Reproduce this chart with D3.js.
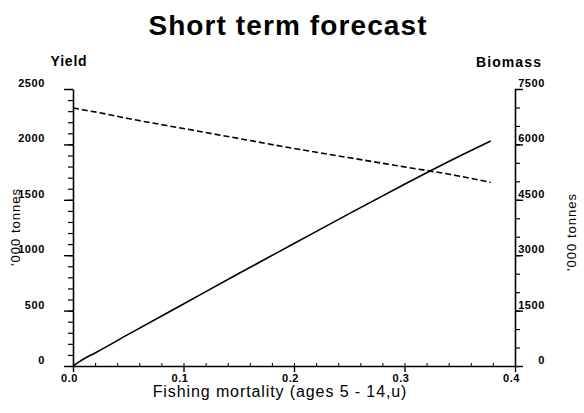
<!DOCTYPE html>
<html>
<head>
<meta charset="utf-8">
<script src="https://cdn.jsdelivr.net/npm/d3@7"></script>
<style>
  html, body { margin: 0; padding: 0; background: #fff; }
  svg { display: block; }
  text { font-family: "Liberation Sans", Arial, sans-serif; fill: #000; }
</style>
</head>
<body>
<svg id="chart" width="584" height="413"></svg>
<script>
// ---- data ----
const fishingMortality = [0, 0.01, 0.02, 0.05, 0.10, 0.15, 0.20, 0.25, 0.30, 0.35, 0.378];
const yieldValues      = [0, 65, 118, 285, 560, 835, 1105, 1375, 1640, 1895, 2031];
const biomassValues    = [6990, 6930, 6880, 6700, 6430, 6160, 5890, 5640, 5390, 5140, 4970];

const xTicks     = [0, 0.1, 0.2, 0.3, 0.4];
const yLeftTicks = [0, 500, 1000, 1500, 2000, 2500];
const yRightTicks= [0, 1500, 3000, 4500, 6000, 7500];

const titleText  = "Short term forecast";
const xTitle     = "Fishing mortality (ages 5 - 14,u)";
const leftHead   = "Yield";
const rightHead  = "Biomass";
const unitLabel  = "'000 tonnes";

// ---- layout ----
const svg = d3.select("#chart");
const x  = d3.scaleLinear().domain([0, 0.4]).range([73, 515]);
const yL = d3.scaleLinear().domain([0, 2500]).range([366, 89]);
const yR = d3.scaleLinear().domain([0, 7500]).range([366, 89]);

const leftMinor  = d3.range(0, 2501, 100);
const rightMinor = d3.range(0, 7501, 500);
const xMinor     = d3.range(0, 0.401, 0.02);

function styleTickText(sel) {
  sel.style("font-size", "11px").style("font-weight", "bold")
     .style("letter-spacing", "0.6px")
     .style("font-family", "'Liberation Sans', Arial, sans-serif").attr("fill", "#000");
}

// left axis
const gL = svg.append("g").attr("transform", `translate(${x(0)},0)`);
gL.call(d3.axisLeft(yL).tickValues(leftMinor).tickSize(5).tickFormat(""))
  .call(g => g.select(".domain").remove())
  .call(g => g.selectAll("line").attr("stroke-width", 1.2));
gL.append("g").call(d3.axisLeft(yL).tickValues(yLeftTicks).tickSize(9).tickPadding(19)
      .tickSizeOuter(0).tickFormat(d3.format("d")))
  .call(g => g.select(".domain").attr("stroke-width", 1.6))
  .call(g => g.selectAll("line").attr("stroke-width", 1.4))
  .call(g => g.selectAll("text").attr("y", -6).call(styleTickText));

// right axis
const gR = svg.append("g").attr("transform", `translate(${x(0.4)},0)`);
gR.call(d3.axisRight(yR).tickValues(rightMinor).tickSize(5).tickFormat(""))
  .call(g => g.select(".domain").remove())
  .call(g => g.selectAll("line").attr("stroke-width", 1.2));
gR.append("g").call(d3.axisRight(yR).tickValues(yRightTicks).tickSize(8)
      .tickSizeOuter(0).tickFormat(d3.format("d")))
  .call(g => g.select(".domain").attr("stroke-width", 1.6))
  .call(g => g.selectAll("line").attr("stroke-width", 1.4))
  .call(g => g.selectAll("text").attr("y", -6).attr("x", 30).attr("text-anchor", "end").call(styleTickText));

// x axis
const gX = svg.append("g").attr("transform", `translate(0,${yL(0)})`);
gX.call(d3.axisTop(x).tickValues(xMinor).tickSize(3).tickFormat(""))
  .call(g => g.select(".domain").remove())
  .call(g => g.selectAll("line").attr("stroke-width", 1));
gX.append("g").call(d3.axisBottom(x).tickValues(xTicks).tickSize(6).tickSizeOuter(0).tickFormat(d3.format(".1f")))
  .call(g => g.select(".domain").attr("stroke-width", 1.6))
  .call(g => g.selectAll("line").attr("stroke-width", 1.4))
  .call(g => g.selectAll("text").attr("x", -4).attr("y", 8).call(styleTickText));

// lines
const pts = fishingMortality.map((f, i) => ({ f, y: yieldValues[i], b: biomassValues[i] }));
svg.append("path").datum(pts)
  .attr("fill", "none").attr("stroke", "#000").attr("stroke-width", 1.6)
  .attr("d", d3.line().x(d => x(d.f)).y(d => yL(d.y)).curve(d3.curveMonotoneX));
svg.append("path").datum(pts)
  .attr("fill", "none").attr("stroke", "#000").attr("stroke-width", 1.6)
  .attr("stroke-dasharray", "6,3")
  .attr("d", d3.line().x(d => x(d.f)).y(d => yR(d.b)).curve(d3.curveMonotoneX));

// texts
svg.append("text").attr("x", 288).attr("y", 35).attr("text-anchor", "middle")
  .style("font-size", "28px").style("font-weight", "bold").style("letter-spacing", "1.1px")
  .text(titleText);
svg.append("text").attr("x", 69).attr("y", 66).attr("text-anchor", "middle")
  .style("font-size", "14px").style("font-weight", "bold").style("letter-spacing", "0.8px")
  .text(leftHead);
svg.append("text").attr("x", 509).attr("y", 67).attr("text-anchor", "middle")
  .style("font-size", "14px").style("font-weight", "bold").style("letter-spacing", "1.1px")
  .text(rightHead);
svg.append("text").attr("x", 280).attr("y", 397).attr("text-anchor", "middle")
  .style("font-size", "16px").style("letter-spacing", "0.9px")
  .text(xTitle);
svg.append("text").attr("transform", "translate(20,227) rotate(-90)").attr("text-anchor", "middle")
  .style("font-size", "13px").style("letter-spacing", "1px")
  .text(unitLabel);
svg.append("text").attr("transform", "translate(576,232) rotate(-90)").attr("text-anchor", "middle")
  .style("font-size", "13px").style("letter-spacing", "1px")
  .text(unitLabel);
</script>
</body>
</html>
